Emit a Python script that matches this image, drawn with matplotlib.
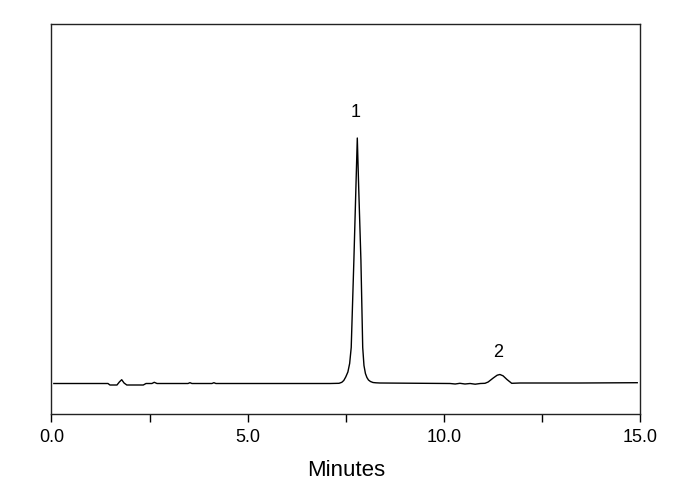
import matplotlib.pyplot as plt
import numpy as np

plt.rcParams['font.family'] = ['Liberation Sans', 'DejaVu Sans']

# chromatogram trace (minutes, detector signal)
time_min = [0.06, 1.44, 1.49, 1.67, 1.73, 1.79, 1.85, 1.92, 2.34, 2.41,
            2.56, 2.62, 2.69, 3.48, 3.53, 3.58, 4.09, 4.14, 4.19, 7.10,
            7.33, 7.40, 7.45, 7.50, 7.555, 7.60, 7.64, 7.708, 7.76, 7.795,
            7.83, 7.887, 7.933, 7.965, 8.002, 8.04, 8.08, 8.13, 8.195,
            8.27, 8.37, 10.16, 10.29, 10.41, 10.54, 10.67, 10.80, 10.93,
            11.05, 11.13, 11.26, 11.36, 11.43, 11.51, 11.61, 11.73, 11.94,
            13.47, 14.93]
signal = [0.0, 0.0, -1.5, -1.5, 1.5, 3.8, 0.5, -1.5, -1.5, 0.0,
          0.0, 1.2, 0.0, 0.0, 0.8, 0.0, 0.0, 0.8, 0.0, 0.0,
          0.2, 1.2, 3.0, 6.5, 11.5, 20.0, 36.0, 123.5, 196.5, 245.5,
          196.5, 123.5, 36.0, 18.0, 10.0, 6.0, 3.5, 2.0, 1.0,
          0.7, 0.5, 0.0, -0.5, 0.2, -0.5, 0.0, -0.7, 0.0,
          0.2, 1.5, 5.5, 8.3, 9.0, 7.7, 4.0, 0.2, 0.5,
          0.5, 0.8]

peak_labels = ['1', '2']
peak_x = [7.75, 11.38]
peak_y = [271.5, 31.5]

fig = plt.figure(figsize=(6.9, 4.9), dpi=100)
ax = fig.add_axes([0.0746, 0.1551, 0.8529, 0.7969])

ax.plot(time_min, signal, color='black', lw=1.0)
for lab, x, y in zip(peak_labels, peak_x, peak_y):
    ax.text(x, y, lab, fontsize=13, ha='center', va='center')

ax.set_xlim(0, 15)
ax.set_ylim(-30.5, 360)
ax.set_xticks([0, 5, 10, 15])
ax.set_xticklabels(['0.0', '5.0', '10.0', '15.0'])
ax.set_xticks([2.5, 7.5, 12.5], minor=True)
ax.set_yticks([])
ax.tick_params(axis='x', which='both', direction='out', length=6,
               width=1, labelsize=13, pad=5)
ax.set_xlabel('Minutes', fontsize=16, labelpad=10)
for s in ax.spines.values():
    s.set_linewidth(1.0)
    s.set_color('#222222')

fig.savefig('out.png', dpi=100)
